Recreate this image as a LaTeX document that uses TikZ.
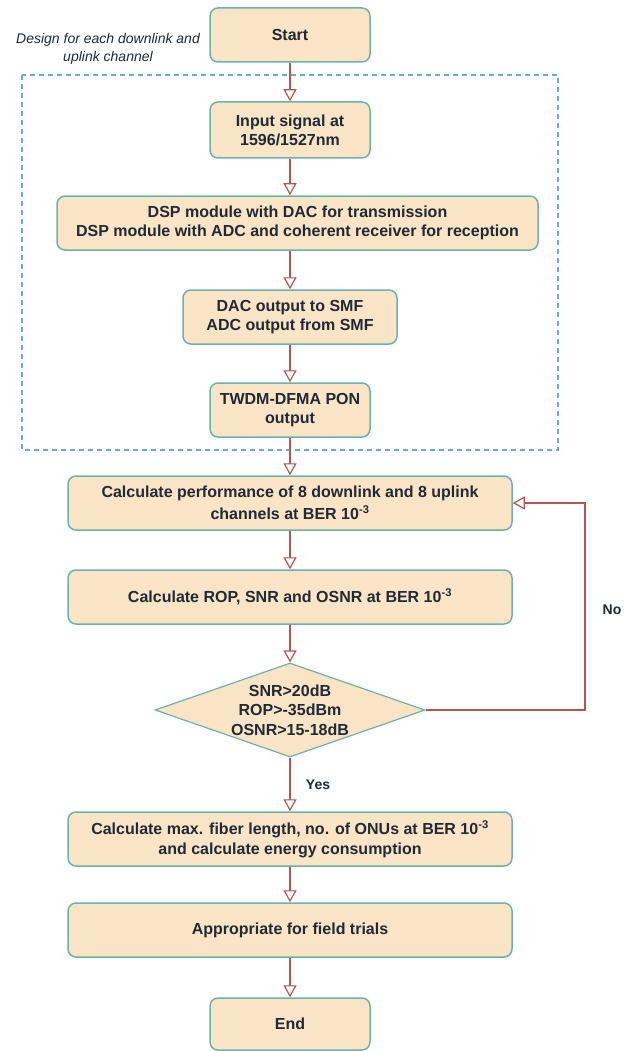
\documentclass[tikz,border=0pt]{standalone}
\usepackage{fontspec}
\setmainfont{Liberation Sans}
\usetikzlibrary{arrows.meta,shapes.geometric}
\definecolor{boxfill}{HTML}{FAE4C6}
\definecolor{boxline}{HTML}{6AB3AB}
\definecolor{arr}{HTML}{B85450}
\definecolor{txt}{HTML}{1F2A36}
\tikzset{
  x=1pt,y=-1pt,
  stepbox/.style={draw=boxline, line width=1.5pt, fill=boxfill, rounded corners=8pt,
    text=txt, font=\fontsize{16}{19}\selectfont\bfseries, align=center, inner sep=0pt},
  decision/.style={diamond, draw=boxline, line width=1.2pt, fill=boxfill, aspect=2.87,
    text=txt, font=\fontsize{16}{19.5}\selectfont\bfseries, align=center, inner sep=0pt},
  flow/.style={draw=arr, line width=1.2pt, -{Triangle[open,length=12pt,width=13pt]}},
  lbl/.style={text=txt, font=\fontsize{14}{16}\selectfont\bfseries},
}
\begin{document}
\begin{tikzpicture}
\useasboundingbox (0,0) rectangle (637,1051);
% dashed group
\draw[boxline, line width=1.2pt, dash pattern=on 5pt off 4pt] (22,75) rectangle (558,450);
\node[text=txt, font=\fontsize{14}{18}\selectfont\itshape, align=center] (note) at (108,49) {Design for each downlink and\\uplink channel};

\node[stepbox, minimum width=160pt, minimum height=54pt] (start) at (290,35) {Start};
\node[stepbox, minimum width=160pt, minimum height=56pt] (input) at (290,130) {Input signal at\\1596/1527nm};
\node[stepbox, minimum width=481pt, minimum height=54pt] (dsp) at (297.5,223) {DSP module with DAC for transmission\\DSP module with ADC and coherent receiver for reception};
\node[stepbox, minimum width=214pt, minimum height=54pt] (dac) at (290,317) {DAC output to SMF\\ADC output from SMF};
\node[stepbox, minimum width=160pt, minimum height=54pt] (twdm) at (290,410) {TWDM-DFMA PON\\output};
\node[stepbox, minimum width=444pt, minimum height=54pt] (perf) at (290,503) {Calculate performance of 8 downlink and 8 uplink\\[3pt]channels at BER 10\textsuperscript{-3}};
\node[stepbox, minimum width=444pt, minimum height=54pt] (rop) at (290,597) {Calculate ROP, SNR and OSNR at BER 10\textsuperscript{-3}};
\node[decision, minimum width=270pt, minimum height=94pt] (dec) at (290,710) {SNR>20dB\\ROP>-35dBm\\OSNR>15-18dB};
\node[stepbox, minimum width=444pt, minimum height=54pt] (maxl) at (290,839) {Calculate max. fiber length, no. of ONUs at BER 10\textsuperscript{-3}\\[1pt]and calculate energy consumption};
\node[stepbox, minimum width=444pt, minimum height=54pt] (field) at (290,930) {Appropriate for field trials};
\node[stepbox, minimum width=160pt, minimum height=52pt] (end) at (290,1024) {End};

\draw[flow] (start) -- (input);
\draw[flow] (input) -- (input |- dsp.north);
\draw[flow] (input |- dsp.south) -- (dac);
\draw[flow] (dac) -- (twdm);
\draw[flow] (twdm) -- (perf);
\draw[flow] (perf) -- (rop);
\draw[flow] (rop) -- (dec);
\draw[flow] (dec) -- node[lbl, right, xshift=12pt, pos=0.5] (yes) {Yes} (maxl);
\draw[flow] (maxl) -- (field);
\draw[flow] (field) -- (end);
\coordinate (c1) at (585,710);
\coordinate (c2) at (585,503);
\draw[flow] (dec.east) -- (c1) -- (c2) -- (perf.east);
\node[lbl] (no) at (612,610) {No};
\end{tikzpicture}
\end{document}
